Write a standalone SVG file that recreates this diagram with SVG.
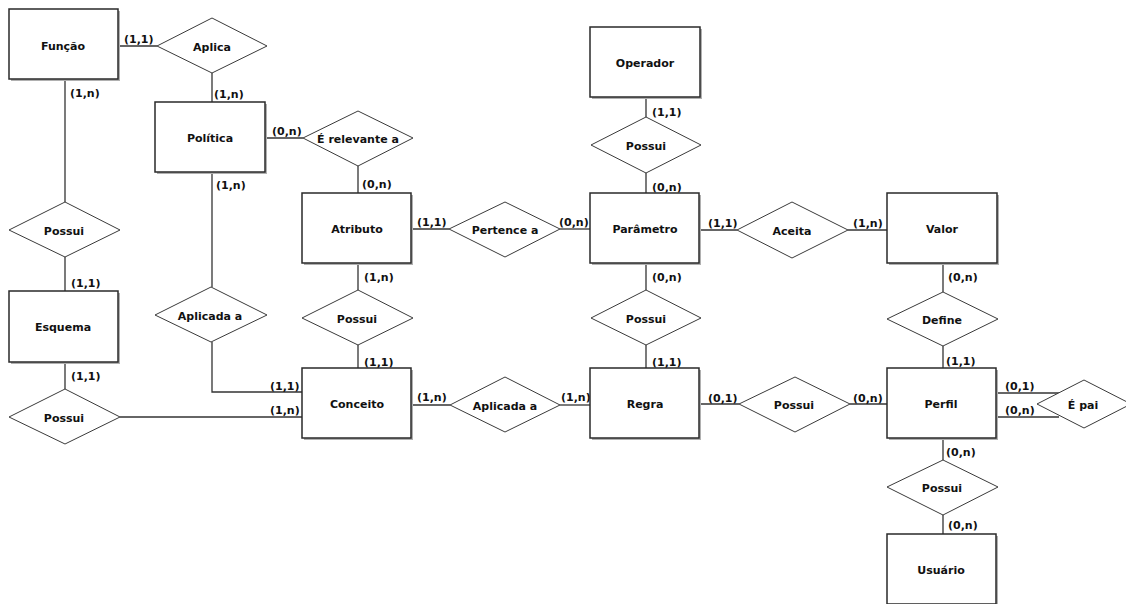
<svg xmlns="http://www.w3.org/2000/svg" width="1126" height="604" viewBox="0 0 1126 604">
<style>
.ent rect.sh{fill:#b0b0b0;stroke:none}
.ent rect.bx{fill:#fff;stroke:#2a2a2a;stroke-width:1.5}
.rel polygon{fill:#fff;stroke:#3a3a3a;stroke-width:1}
text{font-family:"DejaVu Sans","Liberation Sans",sans-serif;font-weight:bold;font-size:11px;fill:#111}
.lbl{text-anchor:middle;dominant-baseline:central}
#connectors line,#connectors polyline{stroke:#333;stroke-width:1.3;fill:none}
</style>
<rect width="1126" height="604" fill="#fff"/>
<g id="connectors">
<line x1="118" y1="46" x2="157" y2="46"/>
<line x1="212" y1="73" x2="212" y2="102"/>
<line x1="265" y1="138" x2="303" y2="138"/>
<line x1="358" y1="166" x2="358" y2="193"/>
<line x1="65" y1="79" x2="65" y2="202"/>
<line x1="65" y1="257" x2="65" y2="291"/>
<line x1="65" y1="362" x2="65" y2="389"/>
<line x1="120" y1="417" x2="302" y2="417"/>
<line x1="212" y1="172" x2="212" y2="287"/>
<polyline points="212,342 212,392 302,392"/>
<line x1="358" y1="263" x2="358" y2="290"/>
<line x1="358" y1="345" x2="358" y2="368"/>
<line x1="411" y1="229" x2="449" y2="229"/>
<line x1="560" y1="229" x2="590" y2="229"/>
<line x1="646" y1="97" x2="646" y2="117"/>
<line x1="646" y1="173" x2="646" y2="193"/>
<line x1="699" y1="230" x2="737" y2="230"/>
<line x1="848" y1="230" x2="887" y2="230"/>
<line x1="646" y1="263" x2="646" y2="290"/>
<line x1="646" y1="345" x2="646" y2="368"/>
<line x1="411" y1="405" x2="450" y2="405"/>
<line x1="560" y1="405" x2="590" y2="405"/>
<line x1="699" y1="404" x2="739" y2="404"/>
<line x1="850" y1="404" x2="887" y2="404"/>
<line x1="943" y1="263" x2="943" y2="292"/>
<line x1="943" y1="346" x2="943" y2="368"/>
<line x1="996" y1="393" x2="1059" y2="393"/>
<line x1="996" y1="417" x2="1059" y2="417"/>
<line x1="943" y1="438" x2="943" y2="460"/>
<line x1="943" y1="515" x2="943" y2="534"/>
</g>
<g id="cardinalities">
<text x="124" y="43">(1,1)</text>
<text x="70" y="97">(1,n)</text>
<text x="214" y="98">(1,n)</text>
<text x="272" y="135">(0,n)</text>
<text x="216" y="189">(1,n)</text>
<text x="362" y="188">(0,n)</text>
<text x="652" y="116">(1,1)</text>
<text x="652" y="191">(0,n)</text>
<text x="417" y="226">(1,1)</text>
<text x="559" y="226">(0,n)</text>
<text x="708" y="227">(1,1)</text>
<text x="853" y="227">(1,n)</text>
<text x="364" y="281">(1,n)</text>
<text x="652" y="281">(0,n)</text>
<text x="948" y="281">(0,n)</text>
<text x="71" y="287">(1,1)</text>
<text x="364" y="366">(1,1)</text>
<text x="652" y="366">(1,1)</text>
<text x="946" y="365">(1,1)</text>
<text x="71" y="380">(1,1)</text>
<text x="270" y="390">(1,1)</text>
<text x="270" y="414">(1,n)</text>
<text x="417" y="401">(1,n)</text>
<text x="561" y="401">(1,n)</text>
<text x="708" y="402">(0,1)</text>
<text x="853" y="402">(0,n)</text>
<text x="1005" y="390">(0,1)</text>
<text x="1005" y="414">(0,n)</text>
<text x="946" y="456">(0,n)</text>
<text x="948" y="529">(0,n)</text>
</g>
<g id="funcao" class="ent"><rect class="sh" x="11" y="11" width="109" height="70"/><rect class="bx" x="9" y="9" width="109" height="70"/><text class="lbl" x="63" y="46">Função</text></g>
<g id="politica" class="ent"><rect class="sh" x="157" y="104" width="110" height="70"/><rect class="bx" x="155" y="102" width="110" height="70"/><text class="lbl" x="210" y="138">Política</text></g>
<g id="esquema" class="ent"><rect class="sh" x="11" y="293" width="109" height="71"/><rect class="bx" x="9" y="291" width="109" height="71"/><text class="lbl" x="63" y="327">Esquema</text></g>
<g id="atributo" class="ent"><rect class="sh" x="304" y="195" width="109" height="70"/><rect class="bx" x="302" y="193" width="109" height="70"/><text class="lbl" x="357" y="229">Atributo</text></g>
<g id="conceito" class="ent"><rect class="sh" x="304" y="370" width="109" height="70"/><rect class="bx" x="302" y="368" width="109" height="70"/><text class="lbl" x="357" y="404">Conceito</text></g>
<g id="operador" class="ent"><rect class="sh" x="592" y="29" width="110" height="70"/><rect class="bx" x="590" y="27" width="110" height="70"/><text class="lbl" x="645" y="63">Operador</text></g>
<g id="parametro" class="ent"><rect class="sh" x="592" y="195" width="109" height="70"/><rect class="bx" x="590" y="193" width="109" height="70"/><text class="lbl" x="645" y="229">Parâmetro</text></g>
<g id="regra" class="ent"><rect class="sh" x="592" y="370" width="109" height="70"/><rect class="bx" x="590" y="368" width="109" height="70"/><text class="lbl" x="645" y="404">Regra</text></g>
<g id="valor" class="ent"><rect class="sh" x="889" y="195" width="110" height="70"/><rect class="bx" x="887" y="193" width="110" height="70"/><text class="lbl" x="942" y="229">Valor</text></g>
<g id="perfil" class="ent"><rect class="sh" x="889" y="370" width="109" height="70"/><rect class="bx" x="887" y="368" width="109" height="70"/><text class="lbl" x="941" y="404">Perfil</text></g>
<g id="usuario" class="ent"><rect class="sh" x="889" y="536" width="109" height="70"/><rect class="bx" x="887" y="534" width="109" height="70"/><text class="lbl" x="941" y="570">Usuário</text></g>
<g id="aplica" class="rel"><polygon points="157,46 212,18 267,46 212,73"/><text class="lbl" x="212" y="47">Aplica</text></g>
<g id="e_relevante_a" class="rel"><polygon points="303,138 358,111 413,138 358,166"/><text class="lbl" x="358" y="139">É relevante a</text></g>
<g id="possui_funcao_esquema" class="rel"><polygon points="9,230 65,202 120,230 65,257"/><text class="lbl" x="64" y="231">Possui</text></g>
<g id="possui_esquema_conceito" class="rel"><polygon points="9,417 65,389 120,417 65,444"/><text class="lbl" x="64" y="418">Possui</text></g>
<g id="aplicada_a_politica" class="rel"><polygon points="155,315 211,287 267,315 211,342"/><text class="lbl" x="210" y="316">Aplicada a</text></g>
<g id="possui_atributo_conceito" class="rel"><polygon points="302,318 358,290 413,318 358,345"/><text class="lbl" x="357" y="319">Possui</text></g>
<g id="pertence_a" class="rel"><polygon points="449,229 505,202 560,229 505,257"/><text class="lbl" x="505" y="230">Pertence a</text></g>
<g id="possui_operador" class="rel"><polygon points="591,145 646,117 701,145 646,173"/><text class="lbl" x="646" y="146">Possui</text></g>
<g id="aceita" class="rel"><polygon points="737,230 792,202 848,230 792,258"/><text class="lbl" x="792" y="231">Aceita</text></g>
<g id="possui_parametro_regra" class="rel"><polygon points="591,318 646,290 701,318 646,345"/><text class="lbl" x="646" y="319">Possui</text></g>
<g id="aplicada_a_conceito" class="rel"><polygon points="450,405 505,377 560,405 505,432"/><text class="lbl" x="505" y="406">Aplicada a</text></g>
<g id="possui_regra_perfil" class="rel"><polygon points="739,404 795,377 850,404 795,432"/><text class="lbl" x="794" y="405">Possui</text></g>
<g id="define" class="rel"><polygon points="887,319 943,292 998,319 943,346"/><text class="lbl" x="942" y="320">Define</text></g>
<g id="e_pai" class="rel"><polygon points="1037,404 1084,380 1131,404 1084,428"/><text class="lbl" x="1083" y="405">É pai</text></g>
<g id="possui_perfil_usuario" class="rel"><polygon points="887,487 943,460 998,487 943,515"/><text class="lbl" x="942" y="488">Possui</text></g>
</svg>
